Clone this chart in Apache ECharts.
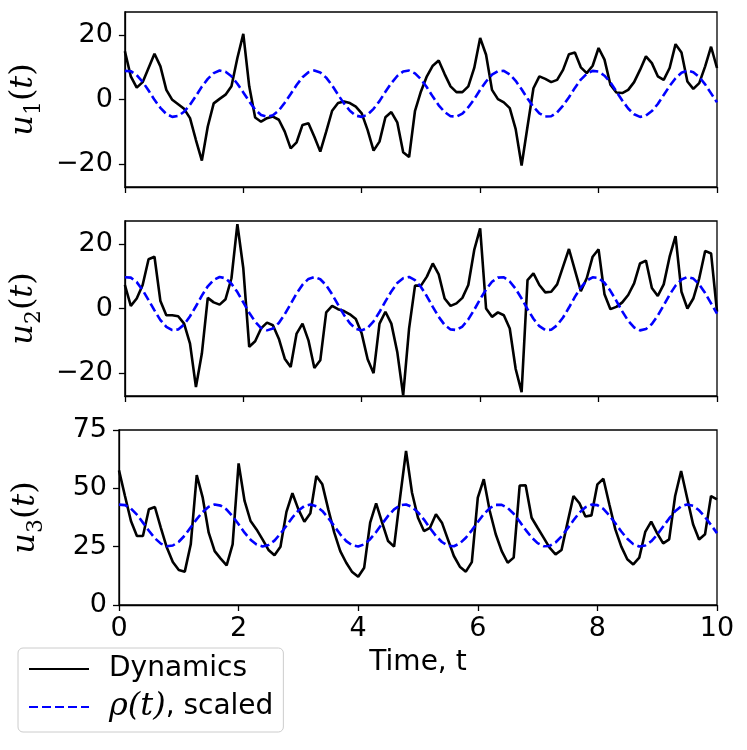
<!DOCTYPE html>
<html>
<head>
<meta charset="utf-8">
<script src="https://cdn.jsdelivr.net/npm/echarts@6/dist/echarts.min.js"></script>
<style>
html,body{margin:0;padding:0;background:#fff;}
#chart{width:747px;height:750px;}
</style>
</head>
<body>
<div id="chart"></div>
<script>
// Sample times (t = 0 .. 10, step 0.1)
const times = [0,0.1,0.2,0.3,0.4,0.5,0.6,0.7,0.8,0.9,1,1.1,1.2,1.3,1.4,1.5,1.6,1.7,1.8,1.9,2,2.1,2.2,2.3,2.4,2.5,2.6,2.7,2.8,2.9,3,3.1,3.2,3.3,3.4,3.5,3.6,3.7,3.8,3.9,4,4.1,4.2,4.3,4.4,4.5,4.6,4.7,4.8,4.9,5,5.1,5.2,5.3,5.4,5.5,5.6,5.7,5.8,5.9,6,6.1,6.2,6.3,6.4,6.5,6.6,6.7,6.8,6.9,7,7.1,7.2,7.3,7.4,7.5,7.6,7.7,7.8,7.9,8,8.1,8.2,8.3,8.4,8.5,8.6,8.7,8.8,8.9,9,9.1,9.2,9.3,9.4,9.5,9.6,9.7,9.8,9.9,10];

// Dynamics u1, u2, u3
const u1 = [15.0,7.2,3.7,5.4,9.8,14.2,10.3,3.0,-0.1,-1.5,
  -2.9,-5.8,-12.6,-19.0,-8.4,-1.2,0.2,1.5,4.1,12.9,
  20.4,4.1,-5.6,-6.9,-5.8,-5.3,-6.3,-10.0,-15.2,-13.3,
  -7.9,-7.4,-11.6,-16.2,-10.0,-3.5,-1.1,-0.6,-1.1,-2.2,
  -4.3,-9.5,-15.9,-13.1,-5.5,-3.9,-7.1,-16.4,-17.9,-3.5,
  2.5,7.2,10.5,12.1,7.9,4.1,2.3,2.3,4.1,9.8,
  19.1,13.9,3.0,0.1,-0.9,-2.7,-9.2,-20.5,-8.4,3.5,
  7.2,6.4,5.4,6.1,9.2,14.1,14.6,10.0,8.2,10.5,
  16.0,12.4,4.6,2.2,2.0,3.0,5.4,9.2,13.4,11.3,
  7.2,6.1,9.8,17.2,14.6,5.6,3.3,5.1,10.3,16.4,
  9.8];
const u2 = [7.3,0.8,3.1,7.3,15.3,16.1,2.3,-2.1,-2.1,-2.4,
  -4.7,-10.9,-24.4,-14.0,3.3,1.9,1.2,2.9,9.4,26.2,
  12.5,-11.9,-10.2,-6.2,-4.4,-5.2,-9.4,-15.6,-18.2,-7.8,
  -4.7,-9.9,-18.5,-16.1,-1.2,0.8,-0.2,-0.8,-1.8,-3.3,
  -7.8,-15.8,-20.1,-4.7,-1.0,-4.7,-13.5,-27.0,-6.2,7.1,
  7.1,9.9,14.0,10.6,3.1,0.8,1.6,3.3,7.3,18.2,
  24.9,0.0,-2.6,-1.2,-2.1,-6.2,-18.8,-26.0,8.8,10.9,
  7.3,5.0,5.2,7.5,13.0,18.5,11.9,5.4,9.4,16.1,
  18.4,4.4,-0.2,0.5,1.9,4.2,7.8,14.0,14.9,6.4,
  3.9,7.5,16.1,22.5,5.2,0.0,3.1,9.4,17.9,17.1,
  -1.0];
const u3 = [57.7,46.7,36.0,29.6,29.6,41.0,42.0,33.1,24.6,18.4,
  15.0,14.3,26.0,55.7,46.0,31.0,23.1,19.9,17.0,26.0,
  60.7,44.6,36.0,32.4,28.1,23.6,21.3,25.0,39.9,47.9,
  41.0,35.7,39.3,55.3,51.7,41.0,31.0,23.1,18.1,14.1,
  12.1,16.0,35.3,43.6,35.3,27.4,25.0,46.0,66.0,48.1,
  37.4,31.7,33.1,38.9,35.3,28.1,21.0,16.4,14.3,18.4,
  46.0,53.9,40.3,30.3,23.1,18.1,20.3,51.2,51.3,37.4,
  33.1,28.9,24.6,21.7,23.6,35.3,46.7,43.6,37.9,38.4,
  51.7,54.1,43.1,32.4,25.0,19.6,17.4,20.3,31.3,35.7,
  30.7,26.4,28.1,46.7,57.4,46.0,34.6,28.1,30.3,46.7,
  45.3];

// rho(t), scaled for each panel
const rho1 = [8.9,8.8,7.6,5.5,2.8,-0.1,-2.6,-4.5,-5.4,-5.1,
  -3.8,-1.6,1.1,4.0,6.4,8.2,9.0,8.6,7.2,4.9,
  2.2,-0.6,-3.1,-4.8,-5.4,-4.9,-3.4,-1.0,1.7,4.5,
  6.9,8.5,9.0,8.4,6.8,4.4,1.5,-1.2,-3.5,-5.0,
  -5.4,-4.7,-2.9,-0.5,2.4,5.1,7.3,8.7,9.0,8.1,
  6.3,3.8,0.9,-1.8,-3.9,-5.2,-5.3,-4.4,-2.4,0.1,
  3.0,5.6,7.7,8.8,8.9,7.8,5.8,3.2,0.3,-2.3,
  -4.3,-5.3,-5.2,-4.0,-1.9,0.7,3.6,6.2,8.0,8.9,
  8.7,7.4,5.3,2.5,-0.3,-2.8,-4.6,-5.4,-5.0,-3.6,
  -1.4,1.4,4.2,6.6,8.3,9.0,8.5,7.0,4.7,1.9,
  -0.9];
const rho2 = [9.7,9.6,8.2,5.7,2.6,-0.6,-3.6,-5.7,-6.7,-6.5,
  -5.0,-2.4,0.7,4.0,6.9,8.9,9.8,9.4,7.7,5.1,
  1.9,-1.3,-4.1,-6.1,-6.8,-6.2,-4.5,-1.8,1.4,4.7,
  7.4,9.2,9.8,9.1,7.2,4.4,1.2,-2.0,-4.6,-6.3,
  -6.8,-6.0,-4.0,-1.1,2.2,5.3,7.9,9.4,9.8,8.8,
  6.7,3.8,0.5,-2.6,-5.1,-6.5,-6.7,-5.6,-3.4,-0.4,
  2.9,5.9,8.3,9.6,9.7,8.4,6.1,3.1,-0.2,-3.2,
  -5.5,-6.7,-6.6,-5.2,-2.8,0.3,3.6,6.5,8.7,9.7,
  9.5,8.0,5.5,2.4,-0.9,-3.8,-5.9,-6.8,-6.4,-4.8,
  -2.2,1.0,4.3,7.1,9.0,9.8,9.3,7.5,4.8,1.6,
  -1.6];
const rho3 = [43.0,42.8,41.3,38.7,35.3,31.8,28.6,26.3,25.2,25.5,
  27.1,29.8,33.3,36.8,39.9,42.1,43.1,42.6,40.9,38.0,
  34.6,31.0,28.0,25.9,25.1,25.7,27.6,30.6,34.0,37.5,
  40.5,42.4,43.1,42.3,40.3,37.3,33.8,30.3,27.4,25.6,
  25.1,26.0,28.2,31.3,34.8,38.2,41.0,42.7,43.1,42.0,
  39.7,36.6,33.0,29.6,27.0,25.4,25.2,26.4,28.8,32.0,
  35.6,38.9,41.5,42.9,42.9,41.6,39.1,35.8,32.2,29.0,
  26.5,25.2,25.3,26.8,29.4,32.8,36.3,39.6,41.9,43.0,
  42.8,41.2,38.4,35.0,31.5,28.4,26.1,25.1,25.5,27.3,
  30.1,33.6,37.1,40.2,42.3,43.1,42.5,40.6,37.7,34.3,
  30.8];

const xTicks = [0,2,4,6,8,10];
const yTicksU12 = [-20,0,20];
const yTicksU3 = [0,25,50,75];
const yNames = ['1','2','3'];
const legendNames = ['Dynamics','ρ(t), scaled'];

const chart = echarts.init(document.getElementById('chart'), null, {renderer:'canvas'});
const BLACK = '#000000';
const BLUE = '#0000ff';
const SANS = 'DejaVu Sans';
const SERIF = 'DejaVu Serif';

const grids = [
  {left:119, right:30, top:12, height:175},
  {left:119, right:30, top:221, height:175},
  {left:119, right:30, top:430, height:175}
].map(g => Object.assign(g, {show:true, borderColor:BLACK, borderWidth:1.3, backgroundColor:'transparent', containLabel:false}));

const minus = v => String(v).replace('-', '\u2212');

const xAxes = [0,1,2].map(i => ({
  type:'value', gridIndex:i, min:0, max:10, interval:2,
  axisLine:{show:true, onZero:false, lineStyle:{color:BLACK, width:1.3}},
  axisTick:{show:true, inside:false, length:6, customValues:xTicks, lineStyle:{color:BLACK, width:1.3}},
  axisLabel:{show:i===2, color:BLACK, fontFamily:SANS, fontSize:27, margin:10, customValues:xTicks},
  splitLine:{show:false},
  name: i===2 ? 'Time, t' : '',
  nameLocation:'middle', nameGap:44,
  nameTextStyle:{color:BLACK, fontFamily:SANS, fontSize:28}
}));

const nameRich = {
  u:{fontFamily:SERIF, fontStyle:'italic', fontSize:32, color:BLACK, verticalAlign:'bottom', padding:[0,0,5,0], lineHeight:35},
  s:{fontFamily:SERIF, fontSize:22, color:BLACK, verticalAlign:'bottom', lineHeight:23},
  p:{fontFamily:SERIF, fontSize:32, color:BLACK, verticalAlign:'bottom', padding:[0,0,5,0], lineHeight:35}
};

const yAxes = [0,1,2].map(i => {
  const ticks = i<2 ? yTicksU12 : yTicksU3;
  const ax = {
    type:'value', gridIndex:i,
    axisLine:{show:true, onZero:false, lineStyle:{color:BLACK, width:1.3}},
    axisTick:{show:true, inside:false, length:6, customValues:ticks, lineStyle:{color:BLACK, width:1.3}},
    axisLabel:{color:BLACK, fontFamily:SANS, fontSize:27, margin:12, customValues:ticks, formatter: v => minus(v)},
    splitLine:{show:false},
    name:'{u|u}{s|' + yNames[i] + '}{p|(}{u|t}{p|)}',
    nameLocation:'middle', nameRotate:90, nameGap:72,
    nameTextStyle:{rich:nameRich}
  };
  if (i<2) {
    ax.min = -27.2; ax.max = 27.2;
  } else {
    ax.min = 0; ax.max = 75; ax.interval = 25;
  }
  return ax;
});

const uSets = [u1,u2,u3];
const rhoSets = [rho1,rho2,rho3];
const series = [];
for (let i=0;i<3;i++) {
  series.push({
    name:legendNames[0], type:'line', xAxisIndex:i, yAxisIndex:i,
    data: times.map((t,k)=>[t, uSets[i][k]]),
    showSymbol:false, symbol:'none', animation:false,
    lineStyle:{color:BLACK, width:2.6}, itemStyle:{color:BLACK}, z:3
  });
  series.push({
    name:legendNames[1], type:'line', xAxisIndex:i, yAxisIndex:i,
    data: times.map((t,k)=>[t, rhoSets[i][k]]),
    showSymbol:false, symbol:'none', animation:false,
    lineStyle:{color:BLUE, width:2.6, type:[9,4]}, itemStyle:{color:BLUE}, z:4
  });
}

chart.setOption({
  backgroundColor:'#ffffff',
  animation:false,
  grid:grids,
  xAxis:xAxes,
  yAxis:yAxes,
  legend:{
    show:true, orient:'vertical', left:18, top:648,
    data:legendNames,
    itemWidth:60, itemHeight:16, itemGap:8,
    padding:[7,10,9,10],
    itemStyle:{opacity:0},
    borderColor:'#cccccc', borderWidth:1, borderRadius:5, backgroundColor:'#ffffff',
    formatter: name => name === legendNames[0] ? '{a|Dynamics}' : '{r|ρ(t)}{a2|, scaled}',
    textStyle:{
      color:BLACK, fontFamily:SANS, fontSize:28,
      rich:{
        a:{fontFamily:SANS, fontSize:28, color:BLACK, padding:[0,0,0,15], lineHeight:34},
        a2:{fontFamily:SANS, fontSize:28, color:BLACK, lineHeight:34},
        r:{fontFamily:SERIF, fontStyle:'italic', fontSize:32, color:BLACK, padding:[0,0,0,15], lineHeight:34}
      }
    }
  },
  series:series
});
</script>
</body>
</html>
